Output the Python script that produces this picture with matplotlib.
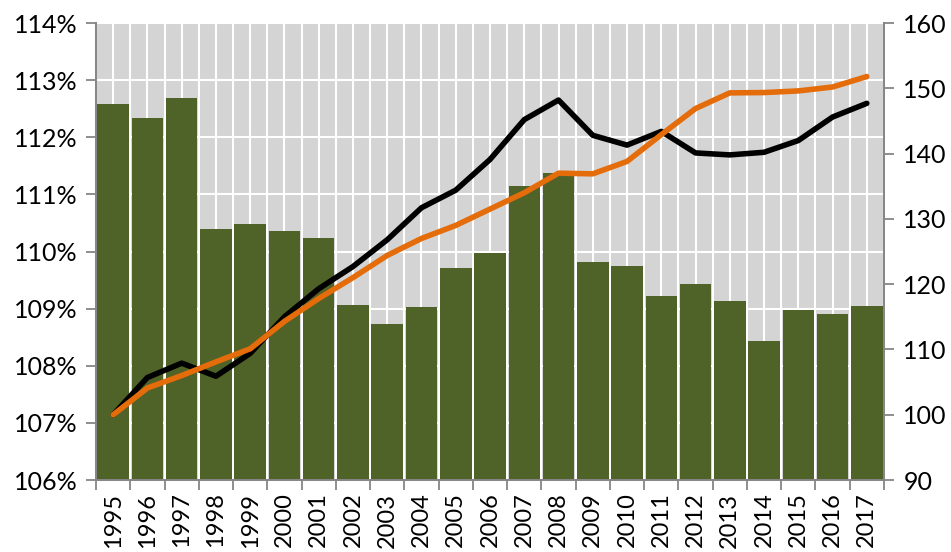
import numpy as np
import matplotlib
matplotlib.use("Agg")
import matplotlib.pyplot as plt
from matplotlib.ticker import FixedLocator, NullFormatter

plt.rcParams['font.family'] = ['Lato', 'DejaVu Sans']

# data
years = [str(y) for y in range(1995, 2018)]
bar_pct = [112.58, 112.34, 112.69, 110.40, 110.49, 110.36, 110.24, 109.07, 108.73, 109.03,
           109.72, 109.97, 111.14, 111.37, 109.82, 109.75, 109.23, 109.44, 109.14, 108.44,
           108.97, 108.91, 109.05]
black_idx = [100.0, 105.7, 107.9, 105.9, 109.4, 115.0, 119.3, 122.7, 126.8, 131.7,
             134.4, 139.1, 145.2, 148.2, 142.8, 141.3, 143.4, 140.1, 139.8, 140.2,
             142.0, 145.6, 147.7]
orange_idx = [100.0, 104.1, 106.0, 108.1, 110.1, 114.3, 117.8, 121.0, 124.4, 127.0,
              129.0, 131.5, 134.0, 137.0, 136.9, 138.8, 142.9, 146.9, 149.3, 149.35,
              149.6, 150.2, 151.8]

x = np.arange(len(years))
bg = '#d4d4d4'
green = '#4f6228'
orange = '#e46c0a'
axis_gray = '#868686'
fs = 18

fig = plt.figure(figsize=(9.51, 5.52), dpi=100)
ax = fig.add_axes([0.101, 0.1304, 0.8285, 0.8279])
ax.set_facecolor(bg)
ax.set_axisbelow(True)

ax.bar(x, bar_pct, width=0.92, bottom=0, color=green, zorder=2)
ax.set_ylim(106, 114)
ax.set_xlim(-0.5, len(years) - 0.5)
ax.set_yticks(np.arange(106, 115, 1))
ax.set_yticklabels([f'{v}%' for v in range(106, 115)])

# x ticks: labels at centres, tick marks at boundaries
ax.xaxis.set_major_locator(FixedLocator(x))
ax.set_xticklabels(years, rotation=90)
ax.xaxis.set_minor_locator(FixedLocator(np.arange(-0.5, len(years), 1)))
ax.xaxis.set_minor_formatter(NullFormatter())
ax.tick_params(axis='x', which='major', length=0, pad=9, labelsize=17)
ax.tick_params(axis='x', which='minor', length=7, color=axis_gray, width=1.3)
ax.tick_params(axis='y', length=7, color=axis_gray, width=1.3, labelsize=fs, pad=6)

ax.grid(True, axis='x', which='both', color='white', linewidth=1.5)
ax.grid(True, axis='y', which='major', color='white', linewidth=1.5)

ax.spines['top'].set_visible(False)
for s in ['left', 'bottom', 'right']:
    ax.spines[s].set_color(axis_gray)
    ax.spines[s].set_linewidth(1.3)

ax2 = ax.twinx()
ax2.plot(x, black_idx, color='black', linewidth=4, solid_capstyle='round', zorder=3)
ax2.plot(x, orange_idx, color=orange, linewidth=4, solid_capstyle='round', zorder=4)
ax2.set_ylim(90, 160)
ax2.set_yticks(np.arange(90, 161, 10))
ax2.tick_params(axis='y', length=7, color=axis_gray, width=1.3, labelsize=fs, pad=7)
ax2.spines['top'].set_visible(False)
for s in ['left', 'bottom', 'right']:
    ax2.spines[s].set_color(axis_gray)
    ax2.spines[s].set_linewidth(1.3)

fig.savefig('out.png', dpi=100)
